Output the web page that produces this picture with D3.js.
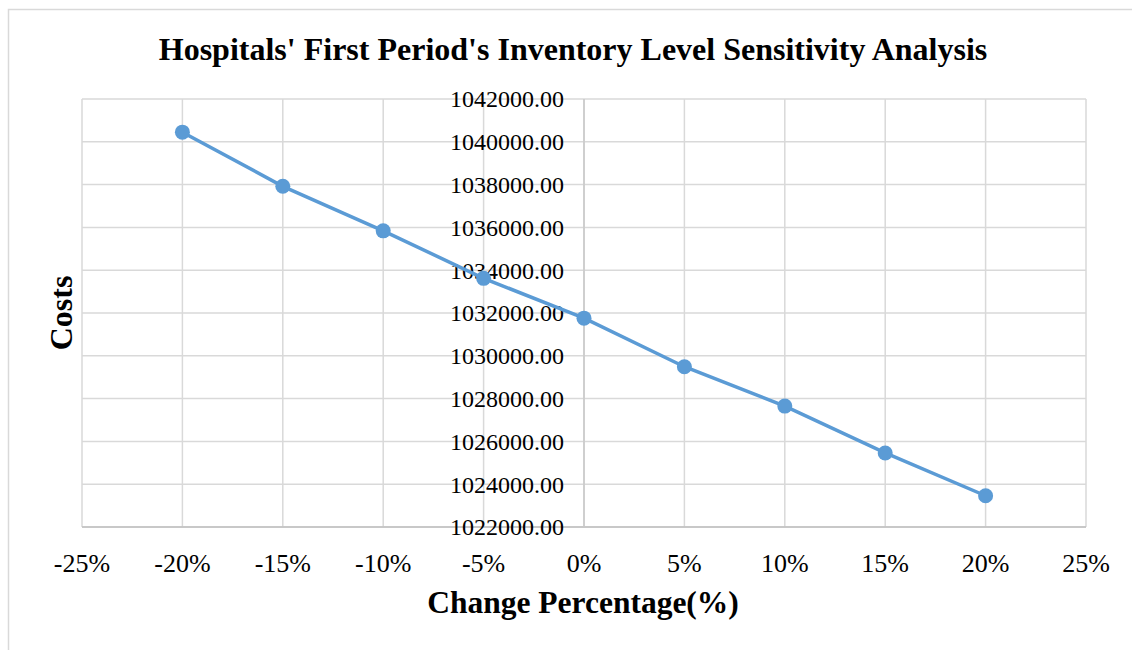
<!DOCTYPE html>
<html>
<head>
<meta charset="utf-8">
<script src="https://cdn.jsdelivr.net/npm/d3@7"></script>
<style>
  body { margin: 0; background: #fff; }
  text { font-family: "Liberation Serif", "Times New Roman", serif; fill: #000; }
</style>
</head>
<body>
<svg class="chart"></svg>
<script>
// values
var changes = [-20, -15, -10, -5, 0, 5, 10, 15, 20]
var costs = [1040450, 1037920, 1035840, 1033620, 1031760, 1029490, 1027650, 1025460, 1023460]
var xTicks = [-25, -20, -15, -10, -5, 0, 5, 10, 15, 20, 25]
var yTicks = d3.range(1022000, 1042001, 2000)

var data = changes.map(function(c, i) { return { change: c, cost: costs[i] }; })

var W = 1132, H = 650
var margin = { top: 99, right: 46, bottom: 123, left: 82 }
var width = W - margin.left - margin.right,
    height = H - margin.top - margin.bottom

var svg = d3.select('.chart')
    .attr('width', W)
    .attr('height', H)

svg.append('rect')
    .attr('width', W).attr('height', H)
    .attr('fill', '#fff')

// outer chart frame (only top and left visible)
svg.append('rect')
    .attr('x', 8.5).attr('y', 9.5)
    .attr('width', W + 20).attr('height', H + 20)
    .attr('fill', 'none')
    .attr('stroke', '#d9d9d9')
    .attr('stroke-width', 1.5)

var chart = svg.append('g')
    .attr('transform', `translate(${margin.left}, ${margin.top})`)

var x = d3.scaleLinear().domain([-25, 25]).range([0, width])
var y = d3.scaleLinear().domain([1022000, 1042000]).range([height, 0])

// gridlines
chart.append('g').selectAll('line')
    .data(yTicks)
  .enter().append('line')
    .attr('x1', 0).attr('x2', width)
    .attr('y1', function(d) { return y(d); })
    .attr('y2', function(d) { return y(d); })
    .attr('stroke', '#d9d9d9')
    .attr('stroke-width', 1.5)

chart.append('g').selectAll('line')
    .data(xTicks)
  .enter().append('line')
    .attr('x1', function(d) { return x(d); })
    .attr('x2', function(d) { return x(d); })
    .attr('y1', 0).attr('y2', height)
    .attr('stroke', '#d9d9d9')
    .attr('stroke-width', 1.5)

// axis lines
chart.append('line')
    .attr('x1', 0).attr('x2', width)
    .attr('y1', height).attr('y2', height)
    .attr('stroke', '#bfbfbf').attr('stroke-width', 1.5)
chart.append('line')
    .attr('x1', x(0)).attr('x2', x(0))
    .attr('y1', 0).attr('y2', height)
    .attr('stroke', '#c8c8c8').attr('stroke-width', 1.5)

// y tick labels sit next to the zero line
chart.append('g').selectAll('text')
    .data(yTicks)
  .enter().append('text')
    .attr('x', x(0) - 20)
    .attr('y', function(d) { return y(d); })
    .attr('dy', '0.35em')
    .attr('text-anchor', 'end')
    .attr('font-size', 24)
    .text(function(d) { return d3.format('.2f')(d); })

// x tick labels below the plot
chart.append('g').selectAll('text')
    .data(xTicks)
  .enter().append('text')
    .attr('x', function(d) { return x(d); })
    .attr('y', height + 45)
    .attr('text-anchor', 'middle')
    .attr('font-size', 26)
    .text(function(d) { return d + '%'; })

// the series
var line = d3.line()
    .x(function(d) { return x(d.change); })
    .y(function(d) { return y(d.cost); })

chart.append('path')
    .datum(data)
    .attr('d', line)
    .attr('fill', 'none')
    .attr('stroke', '#5b9bd5')
    .attr('stroke-width', 3.5)

chart.selectAll('.dot')
    .data(data)
  .enter().append('circle')
    .attr('class', 'dot')
    .attr('cx', function(d) { return x(d.change); })
    .attr('cy', function(d) { return y(d.cost); })
    .attr('r', 7.5)
    .attr('fill', '#5b9bd5')

// titles
svg.append('text')
    .attr('x', 573).attr('y', 60)
    .attr('text-anchor', 'middle')
    .attr('font-size', 32)
    .attr('font-weight', 'bold')
    .text("Hospitals' First Period's Inventory Level Sensitivity Analysis")

svg.append('text')
    .attr('x', 583).attr('y', 613)
    .attr('text-anchor', 'middle')
    .attr('font-size', 31.5)
    .attr('font-weight', 'bold')
    .text('Change Percentage(%)')

svg.append('text')
    .attr('transform', 'translate(72, 313) rotate(-90)')
    .attr('text-anchor', 'middle')
    .attr('font-size', 32)
    .attr('font-weight', 'bold')
    .text('Costs')
</script>
</body>
</html>
